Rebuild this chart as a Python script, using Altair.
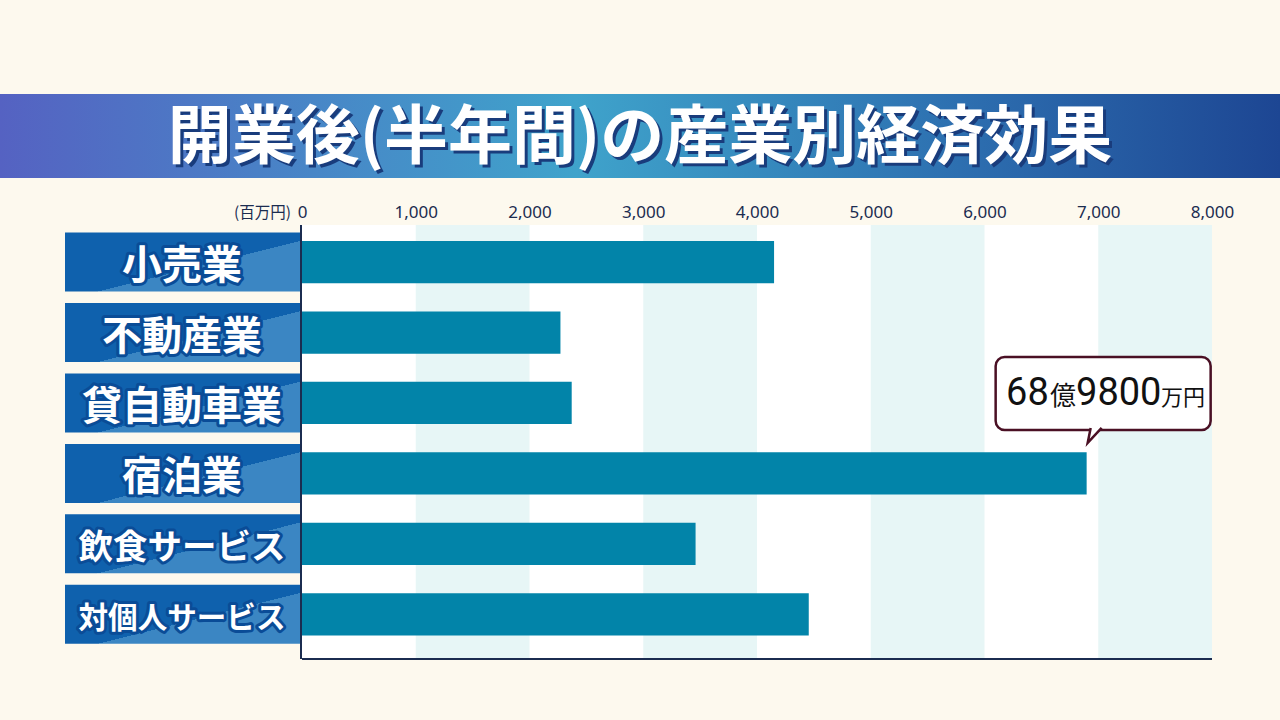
import altair as alt
import pandas as pd

# ---- data ----
categories = ["小売業", "不動産業", "貸自動車業", "宿泊業", "飲食サービス", "対個人サービス"]
values = [4150, 2272, 2371, 6898, 3460, 4455]          # 百万円
shade_starts = [1000, 3000, 5000, 7000]
shade_ends = [2000, 4000, 6000, 8000]
tick_values = [0, 1000, 2000, 3000, 4000, 5000, 6000, 7000, 8000]
unit_label = "(百万円)"
title_text = "開業後(半年間)の産業別経済効果"
highlight_category = "宿泊業"
callout_parts = ["68", "億", "9800", "万円"]

df = pd.DataFrame({"cat": categories, "value": values})
shade_df = pd.DataFrame({"start": shade_starts, "end": shade_ends})
one = pd.DataFrame({"title": [title_text], "unit": [unit_label]})

W, H = 910, 434
NAVY = "#1b2c50"
CJK = "Noto Sans CJK JP"

xscale = alt.Scale(domain=[0, 8000], nice=False, zero=True)
xaxis = alt.Axis(orient="top", values=tick_values, format=",.0f", ticks=False, tickSize=0,
                 domain=False, grid=False, labelPadding=4, labelFontSize=17,
                 labelFont="Noto Sans", labelColor=NAVY, labelFlush=False,
                 labelOverlap=False, title=None)
yscale = alt.Scale(domain=categories, paddingInner=0.4, paddingOuter=0.281, align=0.404)
Y = alt.Y("cat:N", scale=yscale, axis=None)

# background column shading
shade = alt.Chart(shade_df).mark_rect(color="#e7f6f6").encode(
    x=alt.X("start:Q", scale=xscale, axis=xaxis),
    x2="end:Q",
)

bars = alt.Chart(df).mark_bar(color="#0284a9").encode(
    x=alt.X("value:Q", scale=xscale, axis=xaxis),
    y=Y,
)

left_rule = alt.Chart(one).mark_rule(color=NAVY, strokeWidth=2).encode(x=alt.value(-1))
bottom_rule = alt.Chart(one).mark_rule(color=NAVY, strokeWidth=2).encode(y=alt.value(H))

# category label boxes
box_grad = alt.LinearGradient(
    gradient="linear", x1=0, y1=0, x2=1, y2=1,
    stops=[alt.GradientStop(color="#0f61ad", offset=0.57),
           alt.GradientStop(color="#3b86c3", offset=0.57)],
)
label_boxes = alt.Chart(df).mark_bar(size=59, fill=box_grad).encode(
    x=alt.value(-237), x2=alt.value(-2), y=Y,
)
label_base = alt.Chart(df).transform_calculate(
    fs="min(40, 207 / length(datum.cat))"
)
label_outline = label_base.mark_text(
    font=CJK, fontWeight="bold", align="center", baseline="middle", dy=5,
    fill="#0a4c97", stroke="#0a4c97", strokeWidth=6, strokeJoin="round",
).encode(x=alt.value(-120), y=Y, text="cat:N", size=alt.Size("fs:Q", scale=None, legend=None))
label_text = label_base.mark_text(
    font=CJK, fontWeight="bold", align="center", baseline="middle", dy=5, fill="white",
).encode(x=alt.value(-120), y=Y, text="cat:N", size=alt.Size("fs:Q", scale=None, legend=None))

# callout for the highlighted bar
hl = alt.Chart(df).transform_filter(alt.datum.cat == highlight_category)
MAROON = "#4a1024"
callout_box = hl.mark_bar(
    size=73, yOffset=-80, y2Offset=-80, xOffset=-91, x2Offset=124,
    fill="white", stroke=MAROON, strokeWidth=2.5, cornerRadius=9,
).encode(x=alt.X("value:Q", scale=xscale, axis=xaxis), x2="value:Q", y=Y)
callout_tail = hl.mark_point(
    shape="M -0.53 -1 L -0.93 1 L 0.93 -1", size=225, filled=True, fill="white",
    stroke=MAROON, strokeWidth=2.5, opacity=1, xOffset=8, yOffset=-38,
).encode(x=alt.X("value:Q", scale=xscale, axis=xaxis), y=Y)

part_styles = [
    dict(font="Roboto", fontSize=38, dx=-80.6),
    dict(font=CJK, fontSize=26, dx=-36.6),
    dict(font="Roboto", fontSize=38, dx=-10.6),
    dict(font=CJK, fontSize=22, dx=74.4),
]
callout_texts = []
for part, st in zip(callout_parts, part_styles):
    callout_texts.append(
        hl.mark_text(align="left", baseline="alphabetic", dy=-68.5, color="#111111",
                     font=st["font"], fontSize=st["fontSize"], dx=st["dx"]).encode(
            x=alt.X("value:Q", scale=xscale, axis=xaxis), y=Y, text=alt.value(part)
        )
    )

# title banner
title_grad = alt.LinearGradient(
    gradient="linear", x1=0, y1=0, x2=1, y2=0,
    stops=[alt.GradientStop(color="#5562c2", offset=0),
           alt.GradientStop(color="#4a80c6", offset=0.2),
           alt.GradientStop(color="#3fa3cb", offset=0.45),
           alt.GradientStop(color="#2d6fb0", offset=0.75),
           alt.GradientStop(color="#1d4693", offset=1)],
)
banner = alt.Chart(one).mark_rect(fill=title_grad).encode(
    x=alt.value(-302), x2=alt.value(978), y=alt.value(-131), y2=alt.value(-47)
)
title_shadow = alt.Chart(one).mark_text(
    font=CJK, fontWeight="bold", fontSize=64, color="#193c7c", align="center", baseline="middle"
).encode(x=alt.value(341), y=alt.value(-83), text="title:N")
title = alt.Chart(one).mark_text(
    font=CJK, fontWeight="bold", fontSize=64, color="white", align="center", baseline="middle"
).encode(x=alt.value(338), y=alt.value(-86), text="title:N")

unit = alt.Chart(one).mark_text(
    font=CJK, fontSize=15.5, color=NAVY, align="right", baseline="alphabetic"
).encode(x=alt.value(-11), y=alt.value(-7), text="unit:N")

chart = alt.layer(
    shade, bars, left_rule, bottom_rule, label_boxes, label_outline, label_text,
    callout_box, callout_tail, *callout_texts, banner, title_shadow, title, unit,
).properties(
    width=W, height=H,
    autosize=alt.AutoSizeParams(type="none"),
    padding={"left": 302, "top": 225, "right": 68, "bottom": 61},
    background="#fdf9ee",
).configure_view(fill="white", stroke=None)

chart.save("out.html", embed_options={"renderer": "svg", "actions": False})
